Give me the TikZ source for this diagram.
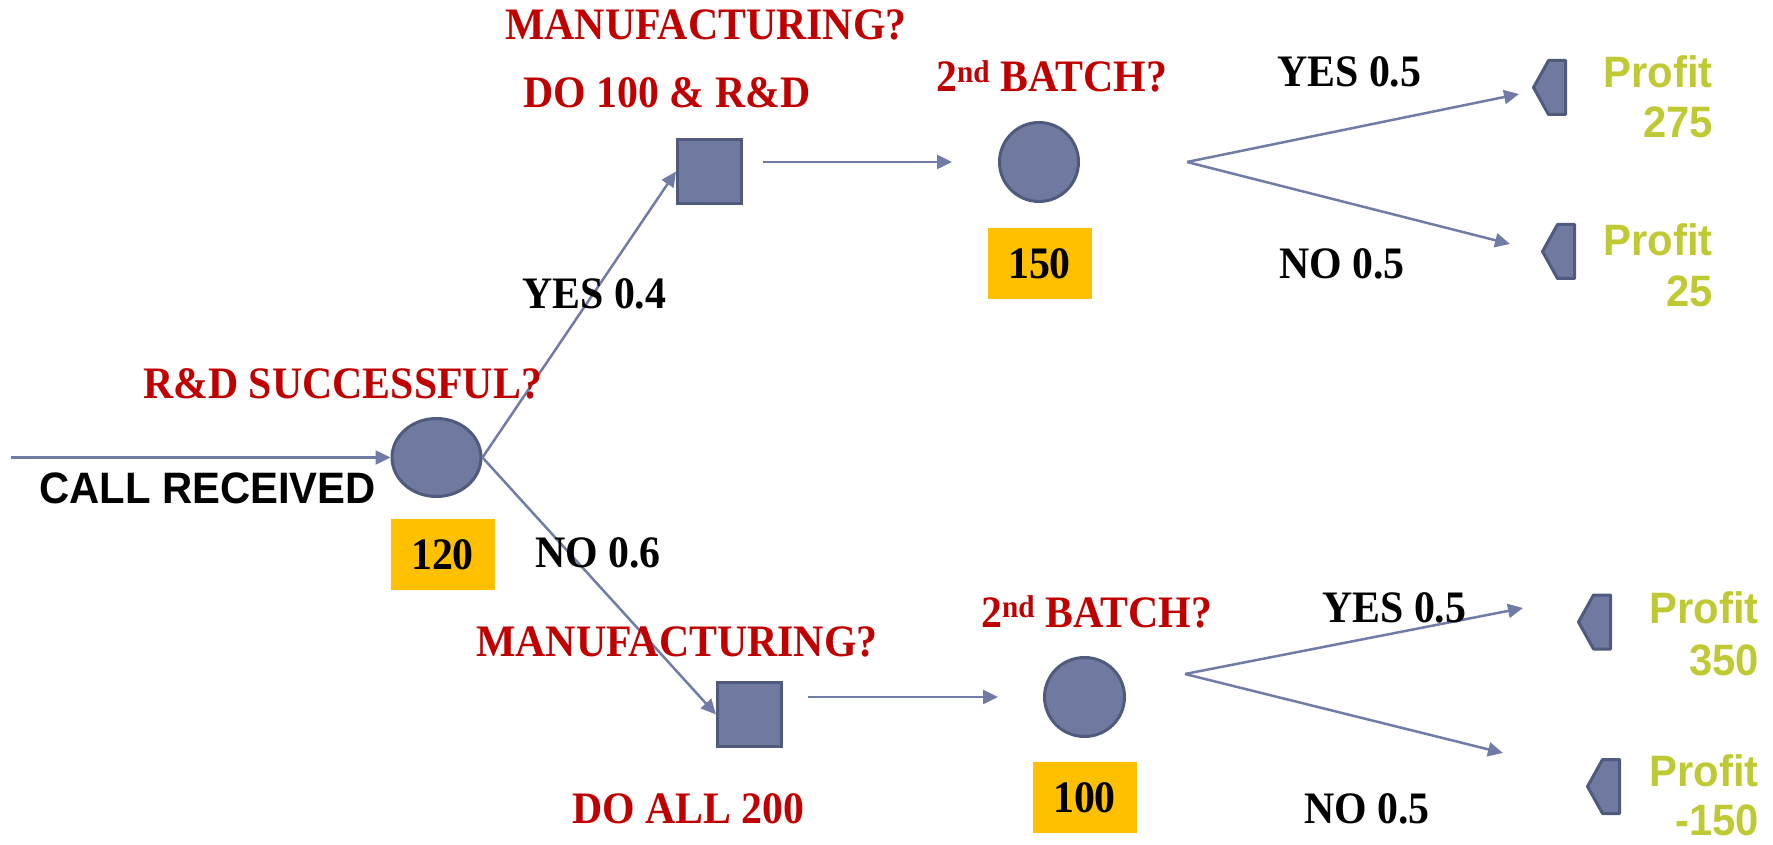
\documentclass[tikz,border=0pt]{standalone}
\usepackage{fontspec}
\newfontfamily\tmsfont{Liberation Serif}[FakeStretch=0.93]
\newfontfamily\arlfont{Liberation Sans}[FakeStretch=0.95]
\usetikzlibrary{arrows.meta,shapes.geometric,calc}

\definecolor{qred}{RGB}{192,0,0}
\definecolor{pgreen}{RGB}{191,201,51}
\definecolor{nodefill}{RGB}{112,122,160}
\definecolor{nodeline}{RGB}{80,90,125}
\definecolor{linecol}{RGB}{112,124,166}
\definecolor{valyellow}{RGB}{255,192,0}

\tikzset{
  lbl/.style={inner sep=0pt, anchor=base west,
    font=\tmsfont\bfseries\fontsize{45}{50}\selectfont},
  qlbl/.style={lbl, text=qred},
  plbl/.style={lbl, text=black},
  pft/.style={inner sep=0pt, anchor=base east, text=pgreen,
    font=\arlfont\bfseries\fontsize{44}{48}\selectfont},
  chance/.style={ellipse, draw=nodeline, fill=nodefill, line width=3pt, inner sep=0pt},
  decision/.style={rectangle, draw=nodeline, fill=nodefill, line width=3pt,
    minimum size=64pt, inner sep=0pt},
  valbox/.style={fill=valyellow, minimum width=104pt, minimum height=71pt, inner sep=0pt,
    font=\tmsfont\bfseries\fontsize{45}{50}\selectfont},
  arr/.style={draw=linecol, line width=2.5pt, -{Triangle[length=15pt,width=14pt]}},
  term/.pic={
    \draw[draw=nodeline, fill=nodefill, line width=3pt, line join=round]
      (0,0) -- (15,-27) -- (32,-27) -- (32,27) -- (15,27) -- cycle;
  },
}

\begin{document}
\begin{tikzpicture}[x=1pt, y=-1pt]
  \useasboundingbox (0,0) rectangle (1773,845);

  % chance and decision nodes
  \node[chance, minimum width=89pt, minimum height=78pt] (c1) at (436.5,457.5) {};
  \node[decision] (sq1) at (709.5,171.5) {};
  \node[decision] (sq2) at (749.5,714.5) {};
  \node[chance, minimum width=79pt, minimum height=79pt] (c2) at (1039,162) {};
  \node[chance, minimum width=80pt, minimum height=79pt] (c3) at (1084.5,697) {};

  % expected values
  \node[valbox] (v1) at (442.5,554.5) {120};
  \node[valbox] (v2) at (1039.5,263.5) {150};
  \node[valbox] (v3) at (1084.5,797.5) {100};

  % end points
  \pic (T1) at (1533.5,87.5) {term};
  \pic (T2) at (1542.5,251.5) {term};
  \pic (T3) at (1578.5,622) {term};
  \pic (T4) at (1587.5,786.5) {term};

  % free ends of the connectors
  \coordinate (start) at (11,457.5);
  \coordinate (f1) at (1187,162);
  \coordinate (f2) at (1185,674);
  \coordinate (t1) at (1519,94);
  \coordinate (t2) at (1510,244);
  \coordinate (t3) at (1523,608);
  \coordinate (t4) at (1503,753);

  % connectors
  \draw[arr] (start) -- (c1.west);
  \draw[arr] (c1.east) -- (sq1.west);
  \draw[arr] (c1.east) -- (sq2.west);
  \draw[arr] ($(sq1.east |- c2)+(20,0)$) -- ($(c2.west)+(-46,0)$);
  \draw[arr] ($(sq2.east |- c3)+(25,0)$) -- ($(c3.west)+(-45,0)$);
  \draw[arr] (f1) -- (t1);
  \draw[arr] (f1) -- (t2);
  \draw[arr] (f2) -- (t3);
  \draw[arr] (f2) -- (t4);

  % labels
  \node[inner sep=0pt, anchor=base west,
    font=\arlfont\bfseries\fontsize{44}{48}\selectfont] (call) at (39,503) {CALL RECEIVED};
  \node[qlbl] (q1) at (143,398) {R\&D SUCCESSFUL?};
  \node[qlbl] (q2) at (505,40) {MANUFACTURING?};
  \node[qlbl] (q3) at (523,108) {DO 100 \& R\&D};
  \node[qlbl] (q4) at (936,92) {2\textsuperscript{nd} BATCH?};
  \node[qlbl] (q5) at (476,656) {MANUFACTURING?};
  \node[qlbl] (q6) at (572,823) {DO ALL 200};
  \node[qlbl] (q7) at (981,627) {2\textsuperscript{nd} BATCH?};

  \node[plbl] (p1) at (522,308) {YES 0.4};
  \node[plbl] (p2) at (535,567) {NO 0.6};
  \node[plbl] (p3) at (1277,87) {YES 0.5};
  \node[plbl] (p4) at (1279,279) {NO 0.5};
  \node[plbl] (p5) at (1322,622) {YES 0.5};
  \node[plbl] (p6) at (1304,823) {NO 0.5};

  % payoffs
  \node[pft] (r1a) at (1713,88) {Profit};
  \node[pft] (r1b) at (1713,138) {275};
  \node[pft] (r2a) at (1713,255) {Profit};
  \node[pft] (r2b) at (1713,306) {25};
  \node[pft] (r3a) at (1759,623) {Profit};
  \node[pft] (r3b) at (1759,675) {350};
  \node[pft] (r4a) at (1759,786) {Profit};
  \node[pft] (r4b) at (1759,835) {-150};
\end{tikzpicture}
\end{document}
